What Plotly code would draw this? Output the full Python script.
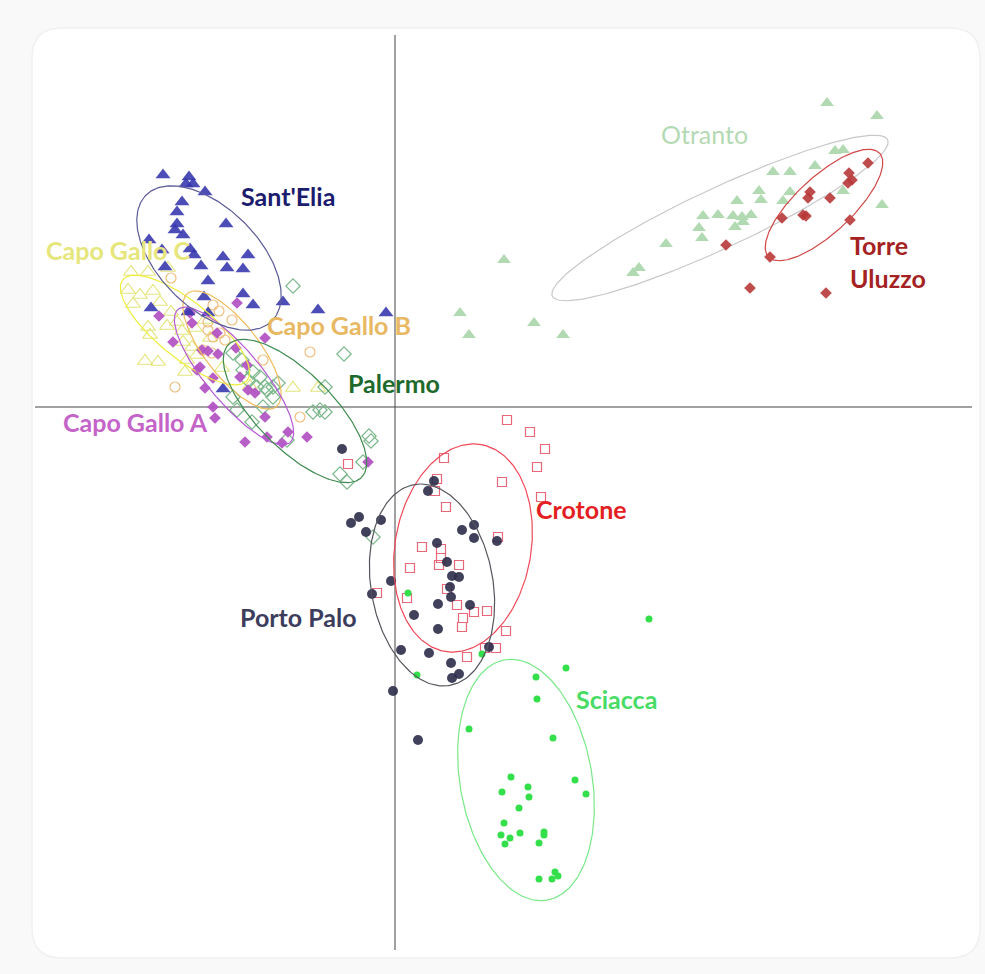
import numpy as np
import plotly.graph_objects as go

# ---- scores (PC1, PC2) per site ----
sant_elia_x = [-2.32, -2.06, -2.09, -2.02, -1.90, -2.13, -2.18, -1.69, -2.18, -2.20, -2.12, -2.46, -2.33, -2.05, -2.01, -1.47,
               -1.72, -1.94, -1.68, -1.52, -2.30, -1.87, -1.52, -1.91, -1.42, -1.12, -0.77, -2.44, -2.07, -1.87, -1.72, -0.09]
sant_elia_y = [2.32, 2.30, 2.23, 2.23, 2.15, 2.05, 1.95, 1.83, 1.83, 1.77, 1.72, 1.67, 1.57, 1.58, 1.52, 1.52,
               1.50, 1.41, 1.39, 1.38, 1.40, 1.26, 1.13, 1.10, 1.02, 1.05, 0.97, 0.99, 0.95, 0.94, 0.18, 0.94]

gallo_c_x = [-2.64, -2.47, -2.27, -2.67, -2.55, -2.42, -2.62, -2.35, -2.24, -2.47, -2.28, -2.45, -2.13, -2.00,
             -2.12, -2.03, -2.50, -2.37, -2.10, -2.08, -1.98, -1.85, -1.73, -1.45, -1.02, -0.77, -2.18, -1.90]
gallo_c_y = [1.35, 1.35, 1.39, 1.17, 1.12, 1.16, 1.03, 1.05, 0.95, 0.80, 0.81, 0.72, 0.76, 0.79,
             0.65, 0.60, 0.46, 0.45, 0.35, 0.47, 0.52, 0.69, 0.39, 0.21, 0.19, 0.19, 0.85, 0.87]

gallo_b_x = [-2.24, -1.82, -1.76, -1.87, -1.87, -1.75, -1.82, -1.70, -1.92, -1.83, -2.20, -1.32, -0.85, -0.95, -1.63]
gallo_b_y = [1.29, 1.02, 0.96, 0.85, 0.77, 0.74, 0.70, 0.67, 0.57, 0.54, 0.20, 0.47, 0.55, -0.10, 0.87]

gallo_a_x = [-2.36, -2.05, -1.58, -1.30, -2.22, -1.93, -1.87, -1.78, -1.77, -1.59, -1.48, -1.95, -1.82, -1.55,
             -1.90, -1.47, -1.82, -1.80, -1.30, -1.50, -1.28, -1.13, -1.07, -0.88, -0.27, -2.03, -1.98, -1.40]
gallo_a_y = [0.91, 0.94, 1.04, 0.69, 0.65, 0.57, 0.56, 0.74, 0.53, 0.59, 0.42, 0.40, 0.29, 0.30,
             0.19, 0.17, 0.00, -0.11, -0.10, -0.35, -0.30, -0.36, -0.25, -0.30, -0.55, 0.84, 0.37, 0.14]

palermo_x = [-1.02, -0.51, -1.62, -1.52, -1.42, -1.35, -1.38, -1.30, -1.22, -1.17, -1.28, -1.22, -1.62, -1.32, -1.58,
             -1.43, -1.08, -0.82, -0.75, -0.70, -0.70, -0.26, -0.24, -0.32, -0.55, -0.48, -0.22, -1.53, -1.47]
palermo_y = [1.21, 0.53, 0.54, 0.37, 0.35, 0.30, 0.20, 0.20, 0.20, 0.24, 0.17, 0.10, 0.10, 0.00, -0.03,
             -0.15, -0.33, -0.05, -0.03, -0.05, 0.20, -0.29, -0.34, -0.55, -0.67, -0.75, -1.30, 0.47, 0.27]

porto_palo_x = [-0.53, 0.39, 0.33, -0.36, -0.14, -0.44, -0.29, 0.79, 0.67, 0.79, 1.02, 0.42, 0.52, 0.57, 0.64, -0.04,
                0.55, 0.56, -0.23, 0.43, 0.75, 0.19, 0.43, 0.06, 0.34, 0.94, 0.56, 0.64, 0.57, -0.02, 0.23]
porto_palo_y = [-0.42, -0.74, -0.84, -1.10, -1.13, -1.16, -1.25, -1.18, -1.23, -1.31, -1.34, -1.36, -1.55, -1.69, -1.70, -1.74,
                -1.80, -1.90, -1.87, -1.97, -1.98, -2.08, -2.22, -2.43, -2.46, -2.40, -2.56, -2.67, -2.71, -2.84, -3.33]

crotone_x = [1.12, 1.35, 1.50, 0.49, 1.42, 1.07, 0.42, 0.40, 0.51, 1.46, 1.03, 0.27, 0.46, 0.46, 0.44,
             0.64, 0.15, -0.18, 0.12, 0.52, 0.62, 0.79, 0.92, 0.68, 0.67, 1.11, 0.72, 0.90, 1.01, -0.47]
crotone_y = [-0.13, -0.25, -0.42, -0.51, -0.60, -0.75, -0.72, -0.84, -1.00, -0.90, -1.30, -1.40, -1.42, -1.51, -1.58,
             -1.58, -1.61, -1.86, -1.91, -1.82, -1.98, -2.05, -2.04, -2.11, -2.20, -2.24, -2.50, -2.41, -2.41, -0.57]

sciacca_x = [2.54, 1.71, 1.41, 1.42, 0.74, 1.58, 1.16, 1.80, 1.33, 1.07, 1.34, 1.91, 1.24, 1.09,
             1.06, 1.15, 1.25, 1.49, 1.49, 1.44, 1.10, 1.60, 1.63, 1.57, 1.44, 0.87, 0.13, 0.22]
sciacca_y = [-2.12, -2.61, -2.70, -2.92, -3.22, -3.31, -3.70, -3.73, -3.80, -3.85, -3.90, -3.87, -4.01, -4.16,
             -4.28, -4.31, -4.26, -4.25, -4.28, -4.36, -4.37, -4.65, -4.69, -4.72, -4.72, -2.47, -1.86, -2.68]

otranto_x = [4.32, 4.82, 4.40, 4.48, 4.20, 3.78, 3.95, 3.64, 3.95, 3.42, 3.66, 3.88, 4.48, 4.87, 3.08, 3.23,
             3.38, 3.47, 3.56, 3.48, 3.40, 3.04, 3.07, 2.71, 2.38, 2.44, 1.09, 0.65, 0.74, 1.39, 1.68]
otranto_y = [3.04, 2.91, 2.56, 2.57, 2.41, 2.35, 2.35, 2.16, 2.15, 2.06, 2.07, 2.06, 2.16, 2.02, 1.91, 1.92,
             1.91, 1.90, 1.92, 1.85, 1.80, 1.79, 1.69, 1.63, 1.34, 1.39, 1.47, 0.94, 0.72, 0.84, 0.72]

uluzzo_x = [4.73, 4.54, 4.57, 4.53, 4.15, 4.13, 4.35, 4.08, 4.11, 3.87, 3.31, 3.75, 4.55, 3.55, 4.31]
uluzzo_y = [2.44, 2.34, 2.27, 2.24, 2.15, 2.09, 2.09, 1.92, 1.91, 1.89, 1.62, 1.50, 1.87, 1.19, 1.14]

# ---- 95% ellipses: centre x, centre y, semi-major, semi-minor, rotation (deg) ----
ell_sant_elia = [-1.86, 1.49, 0.89, 0.50, -45]
ell_gallo_c = [-2.10, 0.77, 0.80, 0.28, -39]
ell_gallo_b = [-1.63, 0.57, 0.72, 0.27, -52]
ell_gallo_a = [-1.61, 0.31, 0.87, 0.27, -50]
ell_palermo = [-1.00, -0.04, 0.94, 0.38, -45]
ell_porto_palo = [0.37, -1.78, 1.02, 0.61, -80]
ell_crotone = [0.68, -1.41, 1.05, 0.68, 80]
ell_sciacca = [1.31, -3.73, 1.22, 0.66, -80]
ell_otranto = [3.25, 1.89, 1.85, 0.30, 25]
ell_uluzzo = [4.29, 2.02, 0.76, 0.28, 43]

fig = go.Figure()

# background card
X0, X1, Y0, Y1 = -3.95, 5.90, -5.67, 4.07


def rounded_rect(x0, y0, x1, y1, r):
    return (f"M {x0 + r},{y1} L {x1 - r},{y1} Q {x1},{y1} {x1},{y1 - r} "
            f"L {x1},{y0 + r} Q {x1},{y0} {x1 - r},{y0} L {x0 + r},{y0} "
            f"Q {x0},{y0} {x0},{y0 + r} L {x0},{y1 - r} Q {x0},{y1} {x0 + r},{y1} Z")


fig.add_shape(type="path", path=rounded_rect(-3.63, -5.51, 5.85, 3.79, 0.30),
              xref="x", yref="y", fillcolor="white", line=dict(color="#f0f0f0", width=1.5), layer="below")

# axes through the origin
fig.add_shape(type="line", x0=0, x1=0, y0=-5.43, y1=3.72, line=dict(color="#444444", width=1), layer="below")
fig.add_shape(type="line", x0=-3.60, x1=5.77, y0=0, y1=0, line=dict(color="#444444", width=1), layer="below")


def ellipse(params, color):
    cx, cy, a, b, ang = params
    t = np.linspace(0, 2 * np.pi, 240)
    phi = np.deg2rad(ang)
    ex = cx + a * np.cos(t) * np.cos(phi) - b * np.sin(t) * np.sin(phi)
    ey = cy + a * np.cos(t) * np.sin(phi) + b * np.sin(t) * np.cos(phi)
    fig.add_trace(go.Scatter(x=ex, y=ey, mode="lines", line=dict(color=color, width=1.2),
                             hoverinfo="skip", showlegend=False))


def points(x, y, symbol, color, size, opacity=1.0, open_line=None):
    marker = dict(symbol=symbol, size=size, color=color, opacity=opacity)
    if open_line:
        marker["line"] = dict(color=color, width=open_line)
    else:
        marker["line"] = dict(width=0)
    fig.add_trace(go.Scatter(x=x, y=y, mode="markers", marker=marker, showlegend=False))


points(otranto_x, otranto_y, "triangle-up", "#b2dab2", 12)
ellipse(ell_otranto, "#c8c8c8")
points(uluzzo_x, uluzzo_y, "diamond", "#b83838", 9, 0.9)
ellipse(ell_uluzzo, "#d04848")

points(gallo_c_x, gallo_c_y, "triangle-up-open", "#e4e47c", 13, open_line=1.2)
points(gallo_b_x, gallo_b_y, "circle-open", "#efbf80", 10, open_line=1.2)
points(palermo_x, palermo_y, "diamond-open", "#7cb88c", 11, open_line=1.2)
points(gallo_a_x, gallo_a_y, "diamond", "#b455c4", 9, 0.95)
points(sant_elia_x, sant_elia_y, "triangle-up", "#3434ae", 13, 0.88)
ellipse(ell_gallo_c, "#eeee3a")
ellipse(ell_gallo_b, "#f0bc5a")
ellipse(ell_gallo_a, "#b65ad6")
ellipse(ell_palermo, "#3e8a4e")
ellipse(ell_sant_elia, "#5a5a98")

points(crotone_x, crotone_y, "square-open", "#e8687a", 9, open_line=1.2)
points(porto_palo_x, porto_palo_y, "circle", "#2c2c4a", 10, 0.9)
points(sciacca_x, sciacca_y, "circle", "#33df4a", 7)
ellipse(ell_crotone, "#f04858")
ellipse(ell_porto_palo, "#55555e")
ellipse(ell_sciacca, "#78e888")

# site labels
labels = [
    ("Sant'Elia", -1.07, 2.11, "#1c1c6e", "bold", "center"),
    ("Capo Gallo C", -2.77, 1.57, "#e6e67c", "bold", "center"),
    ("Capo Gallo B", -0.56, 0.82, "#e8b862", "bold", "center"),
    ("Palermo", -0.01, 0.24, "#1e6a2c", "bold", "center"),
    ("Capo Gallo A", -2.60, -0.15, "#c464c8", "bold", "center"),
    ("Crotone", 1.86, -1.02, "#e41e22", "bold", "center"),
    ("Porto Palo", -0.97, -2.10, "#3c3c5c", "bold", "center"),
    ("Sciacca", 2.21, -2.92, "#48dc66", "bold", "center"),
    ("Otranto", 3.09, 2.73, "#b4dab4", "normal", "center"),
    ("Torre<br>Uluzzo", 4.53, 1.455, "#a42222", "bold", "left"),
]
for text, lx, ly, col, weight, anchor in labels:
    fig.add_annotation(x=lx, y=ly, text=text, showarrow=False, xanchor=anchor, yanchor="middle",
                       align="left", font=dict(family="Lato", size=25, color=col, weight=weight))

fig.update_layout(
    width=985, height=974,
    margin=dict(l=0, r=0, t=0, b=0),
    paper_bgcolor="#f9f9f9",
    plot_bgcolor="rgba(0,0,0,0)",
    xaxis=dict(range=[X0, X1], visible=False, showgrid=False, zeroline=False, fixedrange=True),
    yaxis=dict(range=[Y0, Y1], visible=False, showgrid=False, zeroline=False, fixedrange=True),
    hovermode=False,
)

fig.write_html("out.html")
